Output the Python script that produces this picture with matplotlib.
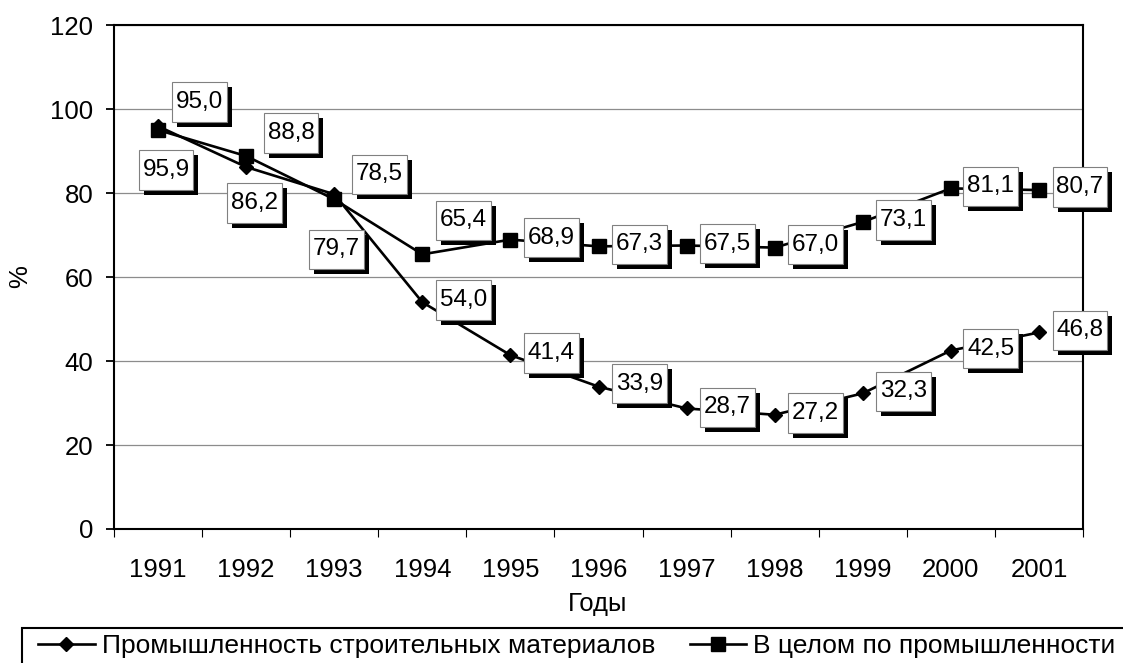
import matplotlib
matplotlib.use('Agg')
import matplotlib.pyplot as plt
import matplotlib.patches as patches
import matplotlib.patheffects as pe
from matplotlib.lines import Line2D
from matplotlib.path import Path
import numpy as np

years = ['1991', '1992', '1993', '1994', '1995', '1996', '1997', '1998', '1999', '2000', '2001']
stroi = [95.9, 86.2, 79.7, 54.0, 41.4, 33.9, 28.7, 27.2, 32.3, 42.5, 46.8]
total = [95.0, 88.8, 78.5, 65.4, 68.9, 67.3, 67.5, 67.0, 73.1, 81.1, 80.7]
name_stroi = 'Промышленность строительных материалов'
name_total = 'В целом по промышленности'

# label offsets from the point, in pixels (dx, dy up)
off_stroi = [(8, -44), (8, -36), (2, -55), (41, 2), (41, 2), (41, 3),
             (41, 1), (41, 2), (41, 2), (40, 2), (41, 2)]
off_total = [(41, 28), (45, 23), (45, 25), (41, 34), (41, 2), (41, 2),
             (41, 2), (41, 3), (41, 2), (40, 2), (41, 3)]

plt.rcParams['font.family'] = ['Liberation Sans', 'DejaVu Sans']
fs = 18.5
fs_lab = 17.5

W, H = 1123, 663
fig = plt.figure(figsize=(W / 100, H / 100), dpi=100)
ax = fig.add_axes([114 / W, 1 - 529 / H, 969 / W, 504 / H])

x = np.arange(len(years))
ax.plot(x, stroi, color='black', lw=1.9, marker='D', ms=7.3, mew=1, zorder=3)
ax.plot(x, total, color='black', lw=1.9, marker='s', ms=10, mew=1, zorder=3)


def fmt(v):
    return f'{v:.1f}'.replace('.', ',')


def label_box(x0, y0, width, height, mutation_size):
    # wider vertical padding than horizontal, like the excel labels
    px = 0.16 * mutation_size
    py = 0.36 * mutation_size
    verts = [(x0 - px, y0 - py), (x0 + width + px, y0 - py),
             (x0 + width + px, y0 + height + py), (x0 - px, y0 + height + py),
             (x0 - px, y0 - py)]
    return Path(verts, closed=True)


shadow = [pe.withSimplePatchShadow(offset=(3.6, -3.6), shadow_rgbFace='black', alpha=1.0)]
for series, offs in ((stroi, off_stroi), (total, off_total)):
    for i, v in enumerate(series):
        t = ax.annotate(fmt(v), (x[i], v), xytext=offs[i], textcoords='offset pixels',
                        ha='center', va='center', fontsize=fs_lab, zorder=5,
                        annotation_clip=False,
                        bbox=dict(boxstyle=label_box, fc='white', ec='#808080', lw=0.8))
        t.get_bbox_patch().set_path_effects(shadow)

ax.set_xlim(-0.5, len(years) - 0.5)
ax.set_ylim(0, 120)
ax.set_yticks(range(0, 121, 20))
ax.yaxis.grid(True, color='#8c8c8c', lw=0.9)
ax.set_axisbelow(True)

ax.set_xticks(x)
ax.set_xticklabels(years)
ax.set_xticks(np.arange(-0.5, len(years), 1), minor=True)
ax.tick_params(axis='x', which='major', length=0, pad=21, labelsize=fs)
ax.tick_params(axis='x', which='minor', length=5.5, width=0.8, direction='out')
ax.tick_params(axis='y', length=5.8, width=1.3, pad=9, labelsize=fs)

for s in ax.spines.values():
    s.set_linewidth(1.5)
    s.set_color('black')

fig.text(20 / W, 1 - 277 / H, '%', rotation=90, ha='center', va='center', fontsize=fs)
fig.text(598 / W, 1 - 604 / H, 'Годы', ha='center', va='center', fontsize=fs)

# legend
rect = patches.Rectangle((22 / W, -0.05), 1.1, 0.05 + 1 - 628 / H, transform=fig.transFigure,
                         fill=False, ec='black', lw=1.5)
fig.patches.append(rect)
handles = [Line2D([], [], color='black', lw=1.9, marker='D', ms=7.3),
           Line2D([], [], color='black', lw=1.9, marker='s', ms=10)]
fig.legend(handles, [name_stroi, name_total], ncol=2, frameon=False, fontsize=19,
           loc='center left', bbox_to_anchor=(38 / W, 1 - 646 / H),
           handlelength=2.15, handletextpad=0.27, columnspacing=1.3, borderpad=0, borderaxespad=0)

fig.savefig('out.png', dpi=100)
